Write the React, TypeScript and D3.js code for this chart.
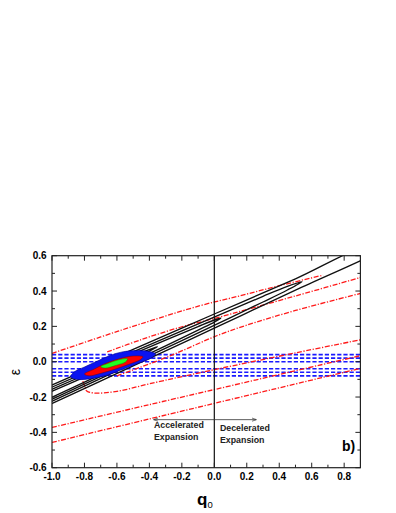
import React from "react";
import * as d3 from "d3";

// axis ticks
const xMajor = [-1.0, -0.8, -0.6, -0.4, -0.2, 0.0, 0.2, 0.4, 0.6, 0.8];
const xLabels = ["-1.0", "-0.8", "-0.6", "-0.4", "-0.2", "0.0", "0.2", "0.4", "0.6", "0.8"];
const xMinor = [-0.9, -0.7, -0.5, -0.3, -0.1, 0.1, 0.3, 0.5, 0.7];
const yMajor = [-0.6, -0.4, -0.2, 0.0, 0.2, 0.4, 0.6];
const yLabels = ["-0.6", "-0.4", "-0.2", "0.0", "0.2", "0.4", "0.6"];
const yMinor = [-0.5, -0.3, -0.1, 0.1, 0.3, 0.5];

// blue dashed bands (epsilon only)
const blueBands = [0.04, 0.02, 0.0, -0.04, -0.06, -0.08];

// red dash-dot contours [q0, eps]
const redTop = [[-1.0, 0.047], [-0.7, 0.14], [-0.457, 0.213], [-0.088, 0.317], [0.158, 0.373], [0.4, 0.43], [0.67, 0.49]];
const redInnerUp = [[-0.66, 0.055], [-0.45, 0.125], [-0.21, 0.195], [0.0, 0.245], [0.5, 0.372], [0.95, 0.49]];
const redInnerLow = [[-0.6, -0.08], [-0.54, -0.06], [-0.27, 0.034], [0.015, 0.147], [0.19, 0.204], [0.5, 0.29], [0.95, 0.398]];
const redHook = [[-0.81, -0.11], [-0.796, -0.145], [-0.786, -0.166], [-0.745, -0.177], [-0.6, -0.168], [-0.4, -0.125], [0.0, -0.045], [0.5, 0.05], [0.95, 0.133]];
const redLow1 = [[-1.0, -0.372], [-0.4, -0.243], [0.9, 0.034]];
const redLow2 = [[-1.0, -0.457], [-0.4, -0.324], [0.9, -0.038]];
const redLines = [redTop, redInnerUp, redInnerLow, redHook, redLow1, redLow2];

// black contours
const k0 = [[-1.05, -0.187], [-0.8, -0.087], [-0.6, -0.007], [-0.45, 0.051], [-0.35, 0.085], [-0.45, 0.037], [-0.6, -0.029], [-0.8, -0.115], [-1.05, -0.223]];
const k1 = [[-1.05, -0.176], [-0.6, 0.004], [-0.3, 0.122], [-0.1, 0.199], [0.0, 0.236], [0.04, 0.247], [0.0, 0.224], [-0.1, 0.179], [-0.3, 0.09], [-0.6, -0.04], [-1.05, -0.234]];
const k2 = [[-1.05, -0.164], [-0.6, 0.016], [-0.2, 0.175], [0.1, 0.292], [0.3, 0.37], [0.45, 0.426], [0.54, 0.453], [0.45, 0.406], [0.3, 0.338], [0.1, 0.25], [-0.2, 0.119], [-0.6, -0.052], [-1.05, -0.246]];
const k3 = [[-1.05, -0.152], [-0.5, 0.07], [0.0, 0.27], [0.5, 0.469], [0.95, 0.65], [1.0, 0.62], [0.95, 0.593], [0.5, 0.405], [0.0, 0.19], [-0.5, -0.024], [-1.05, -0.258]];
const blackLines = [k0, k1, k2, k3];

// combined filled regions
const blob3 = [[-0.885, -0.085], [-0.86, -0.056], [-0.8, -0.03], [-0.72, 0.004], [-0.64, 0.036], [-0.56, 0.057], [-0.47, 0.063], [-0.4, 0.058], [-0.362, 0.043], [-0.39, 0.02], [-0.46, -0.006], [-0.56, -0.042], [-0.66, -0.076], [-0.76, -0.096], [-0.85, -0.1]];
const blob2 = [[-0.8, -0.07], [-0.74, -0.042], [-0.67, -0.01], [-0.58, 0.018], [-0.5, 0.032], [-0.44, 0.028], [-0.455, 0.012], [-0.53, -0.016], [-0.61, -0.042], [-0.7, -0.066], [-0.77, -0.08]];
const blob1 = [[-0.7, -0.028], [-0.65, -0.008], [-0.585, 0.012], [-0.535, 0.016], [-0.545, 0.0], [-0.61, -0.022], [-0.67, -0.036]];

const W = 396;
const H = 513;
const left = 52, right = 360.4, top = 255.7, bottom = 467.7;

export default function App() {
  const x = d3.scaleLinear().domain([-1, 0.9]).range([left, right]);
  const y = d3.scaleLinear().domain([-0.6, 0.6]).range([bottom, top]);

  const line = d3.line<number[]>().x(d => x(d[0])).y(d => y(d[1])).curve(d3.curveCatmullRom.alpha(0.5));
  const area = d3.line<number[]>().x(d => x(d[0])).y(d => y(d[1])).curve(d3.curveCatmullRomClosed.alpha(0.5));

  const font = "'Liberation Sans', Arial, sans-serif";
  const arrowY = y(-0.328);

  return (
    <div style={{ position: "absolute", left: 0, top: 0 }}>
      <svg width={W} height={H} style={{ display: "block", background: "#fff" }}>
        <defs>
          <clipPath id="plot">
            <rect x={left} y={top} width={right - left} height={bottom - top} />
          </clipPath>
          <marker id="ah" viewBox="0 0 10 10" refX="9" refY="5" markerWidth="6" markerHeight="6" orient="auto-start-reverse">
            <path d="M0,1.5 L10,5 L0,8.5" fill="none" stroke="#333" strokeWidth="1.4" />
          </marker>
        </defs>

        <g clipPath="url(#plot)">
          {blueBands.map((b, i) => (
            <line key={"b" + i} x1={left} x2={right} y1={y(b)} y2={y(b)}
              stroke="#1a1aff" strokeWidth={1.6} strokeDasharray="4.2,2" />
          ))}
          {redLines.map((d, i) => (
            <path key={"r" + i} d={line(d as number[][]) || ""} fill="none"
              stroke="#ff1a1a" strokeWidth={1.3} strokeDasharray="5,1.6,1.2,1.6" />
          ))}
          {blackLines.map((d, i) => (
            <path key={"k" + i} d={line(d as number[][]) || ""} fill="none"
              stroke="#111" strokeWidth={1.35} />
          ))}
          <path d={area(blob3 as number[][]) || ""} fill="#0a14f0" stroke="#00008a" strokeWidth={0.6} />
          <path d={area(blob2 as number[][]) || ""} fill="#ff0000" stroke="#7a0000" strokeWidth={0.5} />
          <path d={area(blob1 as number[][]) || ""} fill="#22ff22" stroke="#0a6a0a" strokeWidth={0.4} />
          <line x1={x(0)} x2={x(0)} y1={top} y2={bottom} stroke="#111" strokeWidth={1.2} />
        </g>

        {/* arrow */}
        <line x1={x(-0.372)} x2={x(0.257)} y1={arrowY} y2={arrowY} stroke="#333" strokeWidth={0.8}
          markerStart="url(#ah)" markerEnd="url(#ah)" />
        <g fontFamily={font} fontWeight="bold" fontSize={8.8} fill="#222">
          <text x={x(-0.372)} y={y(-0.378)}>Accelerated</text>
          <text x={x(-0.372)} y={y(-0.443)}>Expansion</text>
          <text x={x(0.035)} y={y(-0.392)}>Decelerated</text>
          <text x={x(0.035)} y={y(-0.46)}>Expansion</text>
        </g>
        <text x={x(0.787)} y={y(-0.505)} fontFamily={font} fontWeight="bold" fontSize={14}>b)</text>

        {/* frame and ticks */}
        <rect x={left} y={top} width={right - left} height={bottom - top} fill="none" stroke="#222" strokeWidth={1.2} />
        {xMajor.map((v, i) => (
          <g key={"xm" + i}>
            <line x1={x(v)} x2={x(v)} y1={bottom} y2={bottom - 5} stroke="#222" />
            <line x1={x(v)} x2={x(v)} y1={top} y2={top + 5} stroke="#222" />
            <text x={x(v)} y={480} textAnchor="middle" fontFamily={font} fontWeight="bold" fontSize={10}>{xLabels[i]}</text>
          </g>
        ))}
        {xMinor.map((v, i) => (
          <g key={"xn" + i}>
            <line x1={x(v)} x2={x(v)} y1={bottom} y2={bottom - 3} stroke="#222" />
            <line x1={x(v)} x2={x(v)} y1={top} y2={top + 3} stroke="#222" />
          </g>
        ))}
        {yMajor.map((v, i) => (
          <g key={"ym" + i}>
            <line x1={left} x2={left + 5} y1={y(v)} y2={y(v)} stroke="#222" />
            <line x1={right} x2={right - 5} y1={y(v)} y2={y(v)} stroke="#222" />
            <text x={46.7} y={y(v) + 3.6} textAnchor="end" fontFamily={font} fontWeight="bold" fontSize={10}>{yLabels[i]}</text>
          </g>
        ))}
        {yMinor.map((v, i) => (
          <g key={"yn" + i}>
            <line x1={left} x2={left + 3} y1={y(v)} y2={y(v)} stroke="#222" />
            <line x1={right} x2={right - 3} y1={y(v)} y2={y(v)} stroke="#222" />
          </g>
        ))}

        {/* axis titles */}
        <text transform="translate(19.5,372) rotate(-90)" textAnchor="middle" fontFamily={font} fontSize={14}>ε</text>
        <text x={197} y={505} fontFamily={font} fontWeight="bold" fontSize={17}>
          q<tspan fontSize={9.5} fontWeight="normal" dy={3}>0</tspan>
        </text>
      </svg>
    </div>
  );
}
